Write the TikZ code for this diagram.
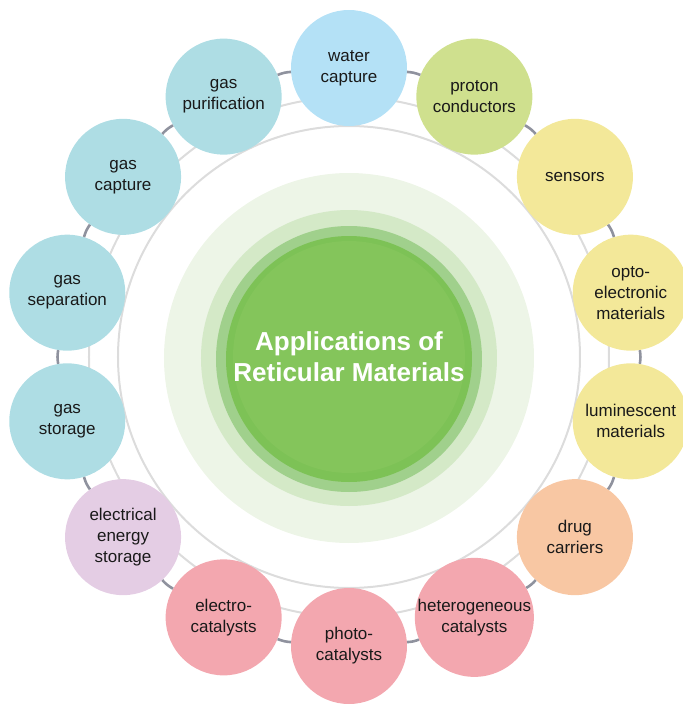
\documentclass[tikz,border=0pt]{standalone}
\usepackage{fontspec}
\setmainfont{Liberation Sans}
\definecolor{waterblue}{HTML}{B4E1F6}
\definecolor{gasblue}{HTML}{AEDDE4}
\definecolor{protongreen}{HTML}{CFE08E}
\definecolor{paleyellow}{HTML}{F3E899}
\definecolor{peach}{HTML}{F8C7A3}
\definecolor{rose}{HTML}{F3A7AF}
\definecolor{lilac}{HTML}{E4CDE4}
\definecolor{ringdark}{HTML}{8F929E}
\definecolor{ringlight}{HTML}{DCDCDC}
\definecolor{glowA}{HTML}{EDF5E7}
\definecolor{glowB}{HTML}{D4E9C7}
\definecolor{glowC}{HTML}{A0D08C}
\definecolor{glowD}{HTML}{7DC256}
\definecolor{glowE}{HTML}{84C55B}

\begin{document}
\begin{tikzpicture}[x=1pt,y=1pt,
  app/.style={circle,minimum size=116pt,inner sep=0pt,align=center,text=black!90,
    font=\fontsize{17}{21}\selectfont},
  link/.style={ringdark,line width=2.6pt}]
        \useasboundingbox (-349,-348) rectangle (334,357);
        \coordinate (o) at (0,0);
        % rings behind the bubbles
        \draw[ringlight,line width=2pt] (o) circle (260pt);
        \draw[ringlight,line width=2pt] (o) circle (231pt);
        % green core
        \fill[glowA] (0,-1) circle (185pt);
        \fill[glowB] (0,-1) circle (148pt);
        \fill[glowC] (0,-2) circle (133pt);
        \fill[glowD] (0,-2) circle (123pt);
        \fill[glowE] (0,0) circle (116pt);
        \node[text=white,align=center,font=\bfseries\fontsize{26}{31}\selectfont] (title) at (o) {Applications of\\Reticular Materials};
        % bubbles
        \node[app,fill=waterblue] (water) at (90:289pt) {water\\capture};
        \node[app,fill=protongreen] (proton) at (64.29:289pt) {proton\\conductors};
        \node[app,fill=paleyellow] (sensors) at (38.57:289pt) {sensors};
        \node[app,fill=paleyellow] (opto) at (12.86:289pt) {opto-\\electronic\\materials};
        \node[app,fill=paleyellow] (lumi) at (-12.86:289pt) {luminescent\\materials};
        \node[app,fill=peach] (drug) at (-38.57:289pt) {drug\\carriers};
        \node[app,fill=rose] (hetero) at (-64.29:289pt) {heterogeneous\\catalysts};
        \node[app,fill=rose] (photo) at (-90:289pt) {photo-\\catalysts};
        \node[app,fill=rose] (electro) at (-115.71:289pt) {electro-\\catalysts};
        \node[app,fill=lilac] (eestor) at (-141.43:289pt) {electrical\\energy\\storage};
        \node[app,fill=gasblue] (gasstor) at (-167.14:289pt) {gas\\storage};
        \node[app,fill=gasblue] (gassep) at (167.14:289pt) {gas\\separation};
        \node[app,fill=gasblue] (gascap) at (141.43:289pt) {gas\\capture};
        \node[app,fill=gasblue] (gaspur) at (115.71:289pt) {gas\\purification};
        % outer links
        \draw[link] (water) to[bend left=9] (proton) (proton) to[bend left=9] (sensors)
          (sensors) to[bend left=9] (opto) (opto) to[bend left=9] (lumi)
          (lumi) to[bend left=9] (drug) (drug) to[bend left=9] (hetero)
          (hetero) to[bend left=9] (photo) (photo) to[bend left=9] (electro)
          (electro) to[bend left=9] (eestor) (eestor) to[bend left=9] (gasstor)
          (gasstor) to[bend left=9] (gassep) (gassep) to[bend left=9] (gascap)
          (gascap) to[bend left=9] (gaspur) (gaspur) to[bend left=9] (water);
      \end{tikzpicture}
\end{document}
